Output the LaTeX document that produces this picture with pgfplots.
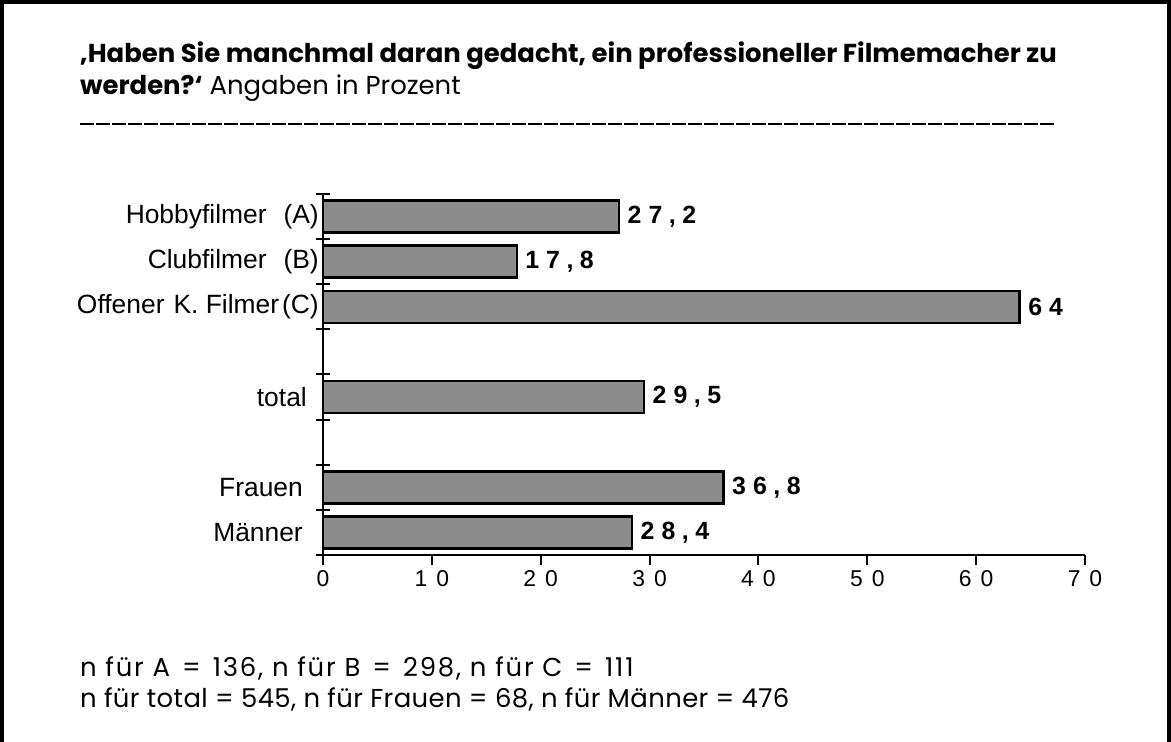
\documentclass[border=0pt]{standalone}
\usepackage{fontspec}
\usepackage{pgfplots}
\pgfplotsset{compat=1.18}
\setmainfont{Liberation Sans}
\newfontfamily\titlefont{Poppins}
\newfontfamily\notefont[LetterSpace=7]{Poppins}
\newfontfamily\noteBfont[LetterSpace=1.5]{Poppins}
\newcommand\gp{\kern7bp\relax}
\newcommand\gc{\kern6.5bp\relax}
\newcommand\gx{\kern9bp\relax}
\newcommand\eq{\hspace{12bp}=\hspace{12bp}}
\begin{document}
\begin{tikzpicture}[x=1bp,y=1bp]
\useasboundingbox (0,0) rectangle (1171,742);
\draw[line width=4bp] (2,-2) -- (2,740) -- (1169,740) -- (1169,-2);
% title
\node[anchor=base west, inner sep=0pt] at (80,679) {\titlefont\fontsize{26}{30}\selectfont\bfseries ‚Haben Sie manchmal daran gedacht, ein professioneller Filmemacher zu};
\node[anchor=base west, inner sep=0pt] at (80,647) {\titlefont\fontsize{26}{30}\selectfont{\bfseries werden?‘} Angaben in Prozent};
\draw[line width=2bp, dash pattern=on 14bp off 2bp] (80,618) -- (1055,618);
% footnotes
\node[anchor=base west, inner sep=0pt] at (80,65) {\notefont\fontsize{26}{30}\selectfont n für A\eq 136, n für B\eq 298, n für C\eq 111};
\node[anchor=base west, inner sep=0pt] at (80,34) {\noteBfont\fontsize{26}{30}\selectfont n für total = 545, n für Frauen = 68, n für Männer = 476};
\begin{axis}[
  at={(323bp,187bp)}, anchor=south west,
  scale only axis, width=762bp, height=361bp,
  xbar, bar width=32bp,
  xmin=0, xmax=70, ymin=0.5, ymax=8.5,
  axis x line=bottom, axis y line=left,
  axis line style={-, line width=2.5bp},
  xtick={0,10,...,70},
  xticklabels={0,1\gx 0,2\gx 0,3\gx 0,4\gx 0,5\gx 0,6\gx 0,7\gx 0},
  ytick={1,2,4,6,7,8},
  yticklabels={Männer\kern16bp\relax,Frauen\kern16bp\relax,total\kern12bp\relax,Offener\hspace{9bp}K.~Filmer\hspace{3bp}(C),Clubfilmer\hspace{17bp}(B),Hobbyfilmer\hspace{17bp}(A)},
  minor ytick={0.5,1.5,...,8.5},
  tick align=outside,
  major tick length=10bp,
  minor tick length=14bp,
  major y tick style={draw=none},
  minor y tick style={line width=2bp, black, xshift=7bp},
  major x tick style={line width=2bp, black},
  xticklabel style={font=\fontsize{23}{26}\selectfont, yshift=-2bp},
  yticklabel style={font=\fontsize{26.5}{30}\selectfont, anchor=east, inner sep=0pt, xshift=6bp},
  point meta=explicit symbolic,
  nodes near coords={\pgfplotspointmeta},
  every node near coord/.append style={font=\fontsize{25}{28}\selectfont\bfseries, anchor=west, xshift=4bp},
  clip=false,
]
\addplot[draw=black, line width=2.5bp, fill=black!45] coordinates {
  (27.2,8) [2\gp 7\gc,\gc 2]
  (17.8,7) [1\gp 7\gc,\gc 8]
  (64,6) [6\gp 4]
  (29.5,4) [2\gp 9\gc,\gc 5]
  (36.8,2) [3\gp 6\gc,\gc 8]
  (28.4,1) [2\gp 8\gc,\gc 4]
};
\end{axis}
\end{tikzpicture}
\end{document}
